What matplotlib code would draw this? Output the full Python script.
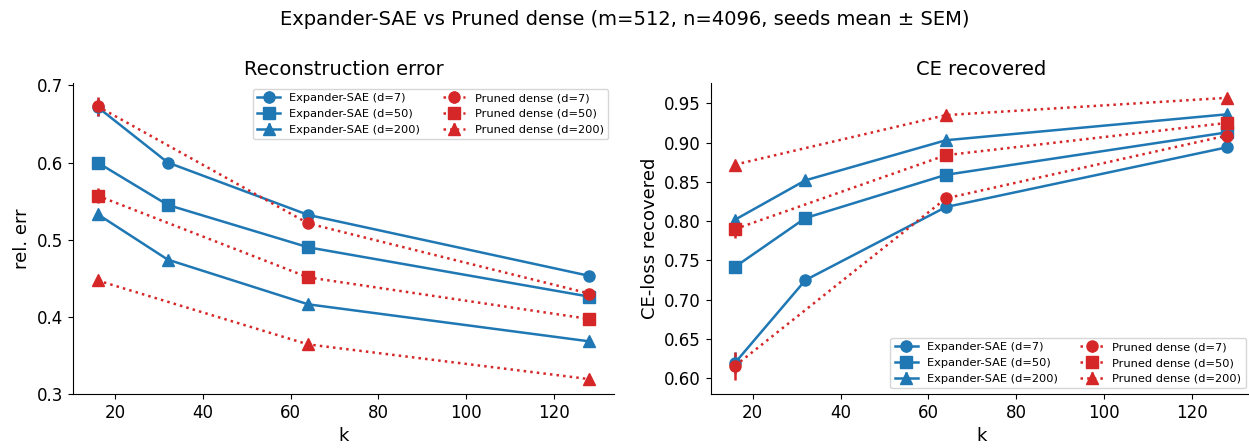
import matplotlib
matplotlib.use("Agg")
from matplotlib import pyplot as plt

ks_exp = [16, 32, 64, 128]
ks_pru = [16, 64, 128]
degrees = [7, 50, 200]
markers = ['o', 's', '^']

# relative reconstruction error (mean, sem)
rel_exp = {7: [0.672, 0.600, 0.532, 0.453],
           50: [0.600, 0.545, 0.490, 0.426],
           200: [0.533, 0.474, 0.416, 0.368]}
rel_exp_sem = {7: [0.012, 0.002, 0.002, 0.001],
               50: [0.003, 0.002, 0.002, 0.001],
               200: [0.003, 0.002, 0.001, 0.001]}
rel_pru = {7: [0.673, 0.521, 0.430],
           50: [0.557, 0.451, 0.397],
           200: [0.447, 0.364, 0.319]}
rel_pru_sem = {7: [0.012, 0.002, 0.001],
               50: [0.010, 0.002, 0.001],
               200: [0.003, 0.002, 0.001]}

# CE-loss recovered (mean, sem)
ce_exp = {7: [0.620, 0.725, 0.818, 0.894],
          50: [0.742, 0.804, 0.859, 0.913],
          200: [0.802, 0.852, 0.903, 0.936]}
ce_exp_sem = {7: [0.014, 0.002, 0.002, 0.001],
              50: [0.003, 0.002, 0.002, 0.001],
              200: [0.003, 0.002, 0.001, 0.001]}
ce_pru = {7: [0.616, 0.829, 0.909],
          50: [0.790, 0.884, 0.925],
          200: [0.872, 0.935, 0.957]}
ce_pru_sem = {7: [0.018, 0.002, 0.001],
              50: [0.012, 0.002, 0.001],
              200: [0.003, 0.002, 0.001]}

blue = '#1f77b4'
red = '#d62728'

fig, axes = plt.subplots(1, 2, figsize=(12.49, 4.48), dpi=100)


def draw(ax, exp, exp_sem, pru, pru_sem):
    for d, m in zip(degrees, markers):
        ax.errorbar(ks_exp, exp[d], yerr=exp_sem[d], color=blue, marker=m,
                    ms=8, lw=1.8, ls='-', label='Expander-SAE (d=%d)' % d)
    for d, m in zip(degrees, markers):
        ax.errorbar(ks_pru, pru[d], yerr=pru_sem[d], color=red, marker=m,
                    ms=8, lw=1.8, ls=':', label='Pruned dense (d=%d)' % d)
    ax.spines['top'].set_visible(False)
    ax.spines['right'].set_visible(False)
    ax.tick_params(labelsize=12)
    ax.set_xlabel('k', fontsize=13)


ax = axes[0]
draw(ax, rel_exp, rel_exp_sem, rel_pru, rel_pru_sem)
ax.set_title('Reconstruction error', fontsize=14)
ax.set_ylabel('rel. err', fontsize=13)
ax.set_yticks([0.3, 0.4, 0.5, 0.6, 0.7])
ax.legend(ncol=2, fontsize=8.2, loc='upper right')

ax = axes[1]
draw(ax, ce_exp, ce_exp_sem, ce_pru, ce_pru_sem)
ax.set_title('CE recovered', fontsize=14)
ax.set_ylabel('CE-loss recovered', fontsize=13)
ax.legend(ncol=2, fontsize=8.2, loc='lower right')

fig.suptitle('Expander-SAE vs Pruned dense (m=512, n=4096, seeds mean \u00b1 SEM)',
             fontsize=14, y=0.978)
fig.subplots_adjust(left=0.0584, right=1.002, top=0.815, bottom=0.1205, wspace=0.179)
fig.savefig('out.png', dpi=100)
